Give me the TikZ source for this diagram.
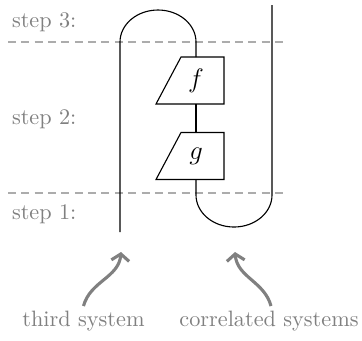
\documentclass[tikz,border=0pt]{standalone}
\usepackage{tikz}
\usetikzlibrary{arrows.meta, positioning, calc}

\begin{document}
\begin{tikzpicture}[
    x=0.0158cm, y=0.0158cm,
    every node/.style={outer sep=0pt, inner sep=0pt},
    wire/.style={draw=black, line width=0.5pt},
    stepLine/.style={draw=gray!65, line width=0.6pt, dash pattern=on 3.6pt off 2.4pt},
    stepLbl/.style={text=gray, anchor=west},
    sysLbl/.style={text=gray},
    gateLine/.style={draw=black, line width=0.5pt, line join=miter},
    gateLbl/.style={font=\fontsize{13}{15}\selectfont},
    pointer/.style={draw=gray, line width=1.4pt, -{Straight Barb[length=3pt,width=8pt]}}
]
    \useasboundingbox (0,0) rectangle (362,-340);

    % Time steps
    \coordinate (s3L) at (8,-42);
    \coordinate (s3R) at (287,-42);
    \coordinate (s1L) at (8,-193);
    \coordinate (s1R) at (287,-193);
    \draw [stepLine] (s3L) -- (s3R);
    \draw [stepLine] (s1L) -- (s1R);
    \node (step3) [stepLbl] at (12,-22) {step 3:};
    \node (step2) [stepLbl] at (12,-119) {step 2:};
    \node (step1) [stepLbl] at (12,-214) {step 1:};

    % Gates
    \foreach \name/\ypos in {f/-80.5, g/-156} {
        \node (\name) [gateLbl] at (196,\ypos) {$\name$};
        \coordinate (\name_top) at ($(\name)+(0,23.5)$);
        \coordinate (\name_bot) at ($(\name)+(0,-23.5)$);
        \draw [gateLine] ($(\name)+(-15,23.5)$) -- ($(\name)+(28,23.5)$)
            -- ($(\name)+(28,-23.5)$) -- ($(\name)+(-40,-23.5)$) -- cycle;
    }

    % Wires
    \coordinate (thirdIn) at (120,-232);
    \coordinate (capL) at (120,-42);
    \coordinate (cupL) at (196,-195);
    \coordinate (corrTop) at (272,-5);
    \draw [wire] (thirdIn) -- (capL) arc[start angle=180, end angle=0, x radius=38, y radius=32]
        -- (f_top);
    \draw [wire] (f_bot) -- (g_top);
    \draw [wire] (g_bot) -- (cupL)
        arc[start angle=180, end angle=360, x radius=38, y radius=32] -- (corrTop);

    % System labels
    \node (third) [sysLbl] at (83.5,-321) {third system};
    \node (corr) [sysLbl] at (269,-321) {correlated systems};
    \coordinate (thirdTip) at (121,-252);
    \coordinate (corrTip) at (235,-252);
    \draw [pointer] ($(third.north)+(0,5)$) to[out=75, in=-95] (thirdTip);
    \draw [pointer] ($(corr.north)+(2,5)$) to[out=105, in=-85] (corrTip);
\end{tikzpicture}
\end{document}
